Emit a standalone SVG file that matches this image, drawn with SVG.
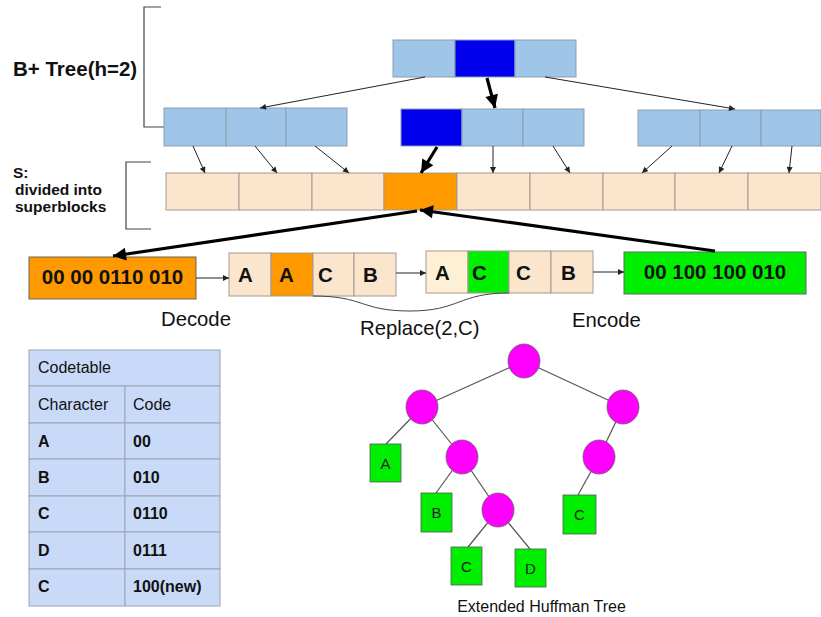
<svg xmlns="http://www.w3.org/2000/svg" width="821" height="617" viewBox="0 0 821 617">
  <defs>
    <style>
      .lb { fill: #9fc5e8; stroke: #8a9fb3; stroke-width: 1; }
      .db { fill: #0000ee; stroke: #8a9fb3; stroke-width: 1; }
      .pe { fill: #fce5cd; stroke: #a39a90; stroke-width: 1; }
      .or { fill: #ff9900; stroke: #a39a90; stroke-width: 1; }
      .gr { fill: #00ee00; stroke: #666; stroke-width: 1; }
      .cr { fill: #fdf0d5; stroke: #a39a90; stroke-width: 1; }
      .tb { fill: #c9daf8; stroke: #9aa4b4; stroke-width: 1; }
      .bk { fill: none; stroke: #444; stroke-width: 1.2; }
      .thin { stroke: #222; stroke-width: 1; fill: none; }
      .thick { stroke: #000; stroke-width: 3.2; fill: none; }
      .edge { stroke: #555; stroke-width: 1.2; }
      .node { fill: #ff00ff; stroke: #666; stroke-width: 0.8; }
      .leaf { fill: #00ee00; stroke: #555; stroke-width: 0.8; }
      text { font-family: "Liberation Sans", Arial, sans-serif; fill: #111; }
      .b { font-weight: bold; }
      .big { font-size: 20.5px; font-weight: bold; }
      .lab { font-size: 20.3px; }
      .t16 { font-size: 16px; }
      .side { font-size: 15.5px; font-weight: bold; }
      .leaft { font-size: 15px; fill: #222; text-anchor: middle; }
    </style>
    <marker id="ah" viewBox="0 0 10 10" refX="10" refY="5" markerWidth="7" markerHeight="6" markerUnits="userSpaceOnUse" orient="auto">
      <path d="M0,0 L10,5 L0,10 z" fill="#222"/>
    </marker>
    <marker id="ahT" viewBox="0 0 10 10" refX="10" refY="5" markerWidth="18" markerHeight="13" markerUnits="userSpaceOnUse" orient="auto">
      <path d="M0,0 L10,5 L0,10 z" fill="#000"/>
    </marker>
  </defs>

  <!-- side labels and brackets -->
  <g id="label-bplus">
    <path class="bk" d="M161,7 H144 V127 H164"/>
    <text class="big" x="13" y="76">B+ Tree(h=2)</text>
  </g>
  <g id="label-s">
    <path class="bk" d="M151,162 H126 V229 H151"/>
    <text class="side" x="13" y="178">S:</text>
    <text class="side" x="15" y="195">divided into</text>
    <text class="side" x="15" y="212">superblocks</text>
  </g>

  <!-- B+ tree root -->
  <g id="root">
    <rect class="lb" x="393" y="40" width="62" height="37"/>
    <rect class="db" x="455" y="40" width="60" height="37"/>
    <rect class="lb" x="515" y="40" width="61" height="37"/>
  </g>

  <!-- level 2 nodes -->
  <g id="inner-left">
    <rect class="lb" x="164" y="108" width="62" height="38"/>
    <rect class="lb" x="226" y="108" width="60" height="38"/>
    <rect class="lb" x="286" y="108" width="61" height="38"/>
  </g>
  <g id="inner-mid">
    <rect class="db" x="401" y="109" width="61" height="37"/>
    <rect class="lb" x="462" y="109" width="61" height="37"/>
    <rect class="lb" x="523" y="109" width="61" height="37"/>
  </g>
  <g id="inner-right">
    <rect class="lb" x="638" y="110" width="62" height="36"/>
    <rect class="lb" x="700" y="110" width="61" height="36"/>
    <rect class="lb" x="761" y="110" width="60" height="36"/>
  </g>

  <!-- superblocks -->
  <g id="superblocks">
    <rect class="pe" x="166" y="173" width="73" height="37"/>
    <rect class="pe" x="239" y="173" width="73" height="37"/>
    <rect class="pe" x="312" y="173" width="72" height="37"/>
    <rect class="or" x="384" y="173" width="73" height="37"/>
    <rect class="pe" x="457" y="173" width="73" height="37"/>
    <rect class="pe" x="530" y="173" width="73" height="37"/>
    <rect class="pe" x="603" y="173" width="72" height="37"/>
    <rect class="pe" x="675" y="173" width="73" height="37"/>
    <rect class="pe" x="748" y="173" width="73" height="37"/>
  </g>

  <!-- encoded superblock -->
  <g id="encoded-old">
    <rect class="or" x="29" y="257" width="167" height="42" style="stroke:#666"/>
    <text class="big" x="112.5" y="284" text-anchor="middle">00 00 0110 010</text>
  </g>
  <g id="decoded">
    <rect class="pe" x="229" y="253" width="42" height="43"/>
    <rect class="or" x="271" y="253" width="42" height="43"/>
    <rect class="pe" x="313" y="253" width="41" height="43"/>
    <rect class="pe" x="354" y="253" width="42" height="43"/>
    <text class="big" x="238" y="282">A</text>
    <text class="big" x="279" y="282">A</text>
    <text class="big" x="318" y="282">C</text>
    <text class="big" x="363" y="282">B</text>
  </g>
  <g id="replaced">
    <rect class="cr" x="426" y="251" width="42" height="42"/>
    <rect class="gr" x="468" y="251" width="41" height="42" style="stroke:#a39a90"/>
    <rect class="pe" x="509" y="251" width="42" height="42"/>
    <rect class="pe" x="551" y="251" width="42" height="42"/>
    <text class="big" x="435" y="280">A</text>
    <text class="big" x="472" y="280">C</text>
    <text class="big" x="516" y="280">C</text>
    <text class="big" x="561" y="280">B</text>
  </g>
  <g id="encoded-new">
    <rect class="gr" x="624" y="252" width="182" height="42"/>
    <text class="big" x="715" y="279" text-anchor="middle">00 100 100 010</text>
  </g>

  <g id="step-labels">
    <text class="lab" x="161" y="326">Decode</text>
    <text class="lab" x="360" y="335">Replace(2,C)</text>
    <text class="lab" x="572" y="327">Encode</text>
  </g>

  <!-- connectors -->
  <g id="connectors">
    <line class="thin" x1="425" y1="77" x2="260" y2="108" marker-end="url(#ah)"/>
    <line class="thin" x1="545" y1="77" x2="735" y2="109" marker-end="url(#ah)"/>
    <line class="thick" x1="487" y1="78" x2="495" y2="108" marker-end="url(#ahT)"/>

    <line class="thin" x1="193" y1="146" x2="205" y2="173" marker-end="url(#ah)"/>
    <line class="thin" x1="255" y1="146" x2="277" y2="173" marker-end="url(#ah)"/>
    <line class="thin" x1="315" y1="146" x2="349" y2="173" marker-end="url(#ah)"/>
    <line class="thick" x1="437" y1="147" x2="421" y2="173" marker-end="url(#ahT)"/>
    <line class="thin" x1="493" y1="146" x2="493" y2="173" marker-end="url(#ah)"/>
    <line class="thin" x1="553" y1="146" x2="570" y2="173" marker-end="url(#ah)"/>
    <line class="thin" x1="672" y1="146" x2="642" y2="173" marker-end="url(#ah)"/>
    <line class="thin" x1="732" y1="146" x2="719" y2="173" marker-end="url(#ah)"/>
    <line class="thin" x1="792" y1="146" x2="789" y2="173" marker-end="url(#ah)"/>

    <line class="thick" x1="417" y1="211" x2="113" y2="256" marker-end="url(#ahT)"/>
    <line class="thick" x1="715" y1="251" x2="420" y2="210" marker-end="url(#ahT)"/>

    <line class="thin" x1="196" y1="278" x2="229" y2="278" marker-end="url(#ah)"/>
    <line class="thin" x1="396" y1="273" x2="426" y2="273" marker-end="url(#ah)"/>
    <line class="thin" x1="593" y1="272" x2="624" y2="272" marker-end="url(#ah)"/>

    <path class="thin" d="M313,296 C365,296 360,311 410,311 C460,311 458,293 509,293" style="stroke:#444"/>
  </g>

  <!-- code table -->
  <g id="codetable">
    <rect class="tb" x="29" y="350" width="191" height="36"/>
    <rect class="tb" x="29" y="386" width="96" height="37"/>
    <rect class="tb" x="125" y="386" width="95" height="37"/>
    <rect class="tb" x="29" y="423" width="96" height="36"/>
    <rect class="tb" x="125" y="423" width="95" height="36"/>
    <rect class="tb" x="29" y="459" width="96" height="37"/>
    <rect class="tb" x="125" y="459" width="95" height="37"/>
    <rect class="tb" x="29" y="496" width="96" height="36"/>
    <rect class="tb" x="125" y="496" width="95" height="36"/>
    <rect class="tb" x="29" y="532" width="96" height="37"/>
    <rect class="tb" x="125" y="532" width="95" height="37"/>
    <rect class="tb" x="29" y="569" width="96" height="37"/>
    <rect class="tb" x="125" y="569" width="95" height="37"/>
    <text class="t16" x="38" y="373">Codetable</text>
    <text class="t16" x="38" y="410">Character</text>
    <text class="t16" x="133" y="410">Code</text>
    <text class="t16 b" x="38" y="447">A</text>
    <text class="t16 b" x="133" y="447">00</text>
    <text class="t16 b" x="38" y="483">B</text>
    <text class="t16 b" x="133" y="483">010</text>
    <text class="t16 b" x="38" y="519">C</text>
    <text class="t16 b" x="133" y="519">0110</text>
    <text class="t16 b" x="38" y="556">D</text>
    <text class="t16 b" x="133" y="556">0111</text>
    <text class="t16 b" x="38" y="592">C</text>
    <text class="t16 b" x="133" y="592">100(new)</text>
  </g>

  <!-- extended Huffman tree -->
  <g id="huffman-edges">
    <line class="edge" x1="524" y1="361" x2="422" y2="407"/>
    <line class="edge" x1="524" y1="361" x2="623" y2="407"/>
    <line class="edge" x1="422" y1="407" x2="386" y2="444"/>
    <line class="edge" x1="422" y1="407" x2="462" y2="457"/>
    <line class="edge" x1="462" y1="457" x2="436" y2="493"/>
    <line class="edge" x1="462" y1="457" x2="498" y2="510"/>
    <line class="edge" x1="498" y1="510" x2="468" y2="547"/>
    <line class="edge" x1="498" y1="510" x2="530" y2="549"/>
    <line class="edge" x1="623" y1="407" x2="599" y2="457"/>
    <line class="edge" x1="599" y1="457" x2="578" y2="495"/>
  </g>
  <g id="h-root"><ellipse class="node" cx="524" cy="361" rx="16" ry="17"/></g>
  <g id="h-l"><ellipse class="node" cx="422" cy="407" rx="16" ry="17"/></g>
  <g id="h-r"><ellipse class="node" cx="623" cy="407" rx="16" ry="17"/></g>
  <g id="h-lr"><ellipse class="node" cx="462" cy="457" rx="16" ry="17"/></g>
  <g id="h-rl"><ellipse class="node" cx="599" cy="457" rx="16" ry="17"/></g>
  <g id="h-lrr"><ellipse class="node" cx="498" cy="510" rx="16" ry="17"/></g>
  <g id="leaf-a">
    <rect class="leaf" x="370" y="444" width="31" height="38"/>
    <text class="leaft" x="385.5" y="469">A</text>
  </g>
  <g id="leaf-b">
    <rect class="leaf" x="421" y="493" width="31" height="39"/>
    <text class="leaft" x="436.5" y="518">B</text>
  </g>
  <g id="leaf-c">
    <rect class="leaf" x="451" y="547" width="31" height="38"/>
    <text class="leaft" x="466.5" y="572">C</text>
  </g>
  <g id="leaf-d">
    <rect class="leaf" x="515" y="549" width="31" height="38"/>
    <text class="leaft" x="530.5" y="574">D</text>
  </g>
  <g id="leaf-c-new">
    <rect class="leaf" x="563" y="495" width="33" height="39"/>
    <text class="leaft" x="579.5" y="520">C</text>
  </g>
  <text x="541.5" y="612" font-size="16" text-anchor="middle">Extended Huffman Tree</text>
</svg>
